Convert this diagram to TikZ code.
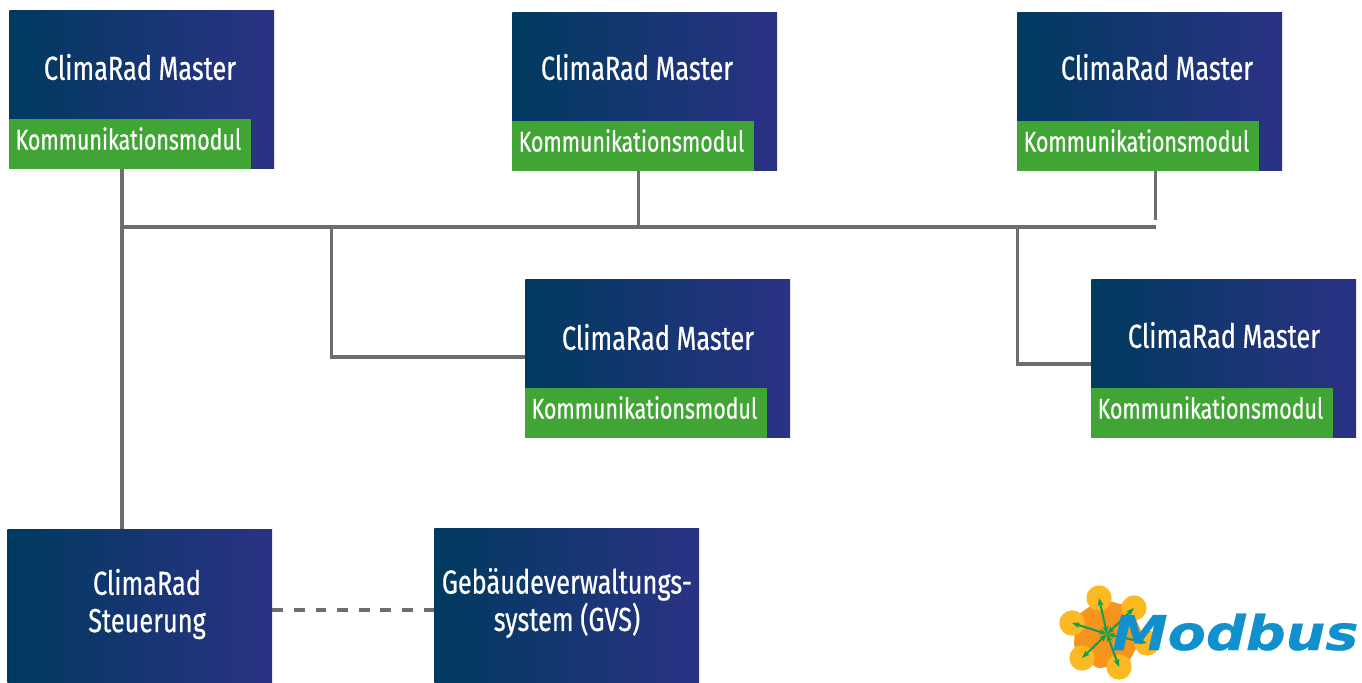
\documentclass[tikz,border=0pt]{standalone}
\usepackage{fontspec}
\usepackage{tikz}
\usetikzlibrary{arrows.meta, shapes.geometric}
\newfontfamily\boxfont[FakeStretch=0.76, FakeBold=0.5]{Fira Sans}
\newfontfamily\modulfont[FakeStretch=0.745, FakeBold=0.5]{Fira Sans}
\newfontfamily\logofont[FakeStretch=1.16, FakeBold=0.6]{DejaVu Sans Bold Oblique}
\definecolor{boxleft}{HTML}{003A5F}
\definecolor{boxmid}{HTML}{003F7C}
\definecolor{boxright}{HTML}{2B3285}
\definecolor{modulgreen}{HTML}{40A535}
\definecolor{linegray}{HTML}{6D6E71}
\definecolor{logoblue}{HTML}{1090CC}
\definecolor{logoorange}{HTML}{F7941E}
\definecolor{logoyellow}{HTML}{FDB924}
\definecolor{logogreen}{HTML}{109F4B}

\begin{document}
\begin{tikzpicture}[
			x=.75pt, y=-.75pt,
			master/.style = {anchor=north west, inner sep=0pt, minimum width=198.6pt, minimum height=119pt,
				left color=boxleft, middle color=boxmid, right color=boxright},
			control/.style = {master, minimum height=115.5pt},
			modul/.style = {anchor=south west, fill=modulgreen, inner xsep=4.8pt, inner ysep=0pt, text width=172pt,
				minimum height=37.2pt, text height=14pt, text depth=5.8pt, align=left, text=white,
				font=\modulfont\fontsize{21.5}{24}\selectfont},
			title/.style = {text=white, align=center, inner sep=0pt, font=\boxfont\fontsize{25}{28}\selectfont},
			bus/.style = {draw=linegray, line width=2.3pt},
			sat/.style = {circle, fill=logoyellow, inner sep=0pt, minimum size=19pt}
		]
		\useasboundingbox (0,0) rectangle (1362,682);
		% Masters.
		\node[master] (ma) at (9,10) {};
		\node[master] (mb) at (512,12) {};
		\node[master] (mc) at (1017,12) {};
		\node[master] (md) at (525,279) {};
		\node[master] (me) at (1091,279) {};
		\node[title] (ta) at (140,67) {ClimaRad Master};
		\node[title] (tb) at (637,67) {ClimaRad Master};
		\node[title] (tc) at (1157,67) {ClimaRad Master};
		\node[title] (td) at (658,337) {ClimaRad Master};
		\node[title] (te) at (1224,335) {ClimaRad Master};
		% Modules.
		\node[modul] (ka) at (ma.south west) {Kommunikationsmodul};
		\node[modul] (kb) at (mb.south west) {Kommunikationsmodul};
		\node[modul] (kc) at (mc.south west) {Kommunikationsmodul};
		\node[modul] (kd) at (md.south west) {Kommunikationsmodul};
		\node[modul] (ke) at (me.south west) {Kommunikationsmodul};
		% Bottom row.
		\node[control] (st) at (7,529) {};
		\node[control] (gvs) at (434,528) {};
		\node[title] (tst) at (147,604) {ClimaRad\\Steuerung};
		\node[title] (tgvs) at (567,603) {Gebäudeverwaltungs-\\system (GVS)};
		% Bus.
		\coordinate (bl) at (122,227);
		\coordinate (bm) at (638.5,227);
		\coordinate (br) at (1155.5,227);
		\coordinate (bd) at (331.5,227);
		\coordinate (be) at (1017.5,227);
		\coordinate (ce) at (1155.5,220);
		\coordinate (dd) at (331.5,357);
		\coordinate (de) at (1017.5,364);
		\coordinate (gl) at (0,610);

		\draw[bus] (bl |- ma.south) to (bl |- st.north);
		\draw[bus] (bl) to (br);
		\draw[bus] (bm |- mb.south) to (bm);
		\draw[bus] (br |- mc.south) to (ce);
		\draw[bus] (bd) to (dd) to (dd -| md.west);
		\draw[bus] (be) to (de) to (de -| me.west);
		\draw[bus, dash pattern=on 8.2pt off 8pt] (gl -| st.east) to (gl -| gvs.west);
		% Logo.
		\node[regular polygon, regular polygon sides=7, rotate=10, fill=logoorange, rounded corners=3pt, inner sep=0pt, minimum size=54pt] (hub) at (1107,634) {};
		\node[sat] (sa) at (1099,598) {};
		\node[sat] (sb) at (1134,608) {};
		\node[sat] (sc) at (1072,623) {};
		\node[sat] (sd) at (1082,658) {};
		\node[sat] (se) at (1119,667) {};
		\node[sat] (sf) at (1147,643) {};
		\foreach \s in {sa,sb,sc,sd,se,sf}
			\draw[{Stealth[length=6pt]}-{Stealth[length=6pt]}, draw=logogreen, fill=logogreen, line width=1.5pt] (hub.center) to (\s.center);
		\node[text=logoblue, inner sep=0pt, anchor=base west, font=\logofont\fontsize{36}{36}\selectfont] (logo) at (1112,650) {Modbus};
	\end{tikzpicture}
\end{document}
